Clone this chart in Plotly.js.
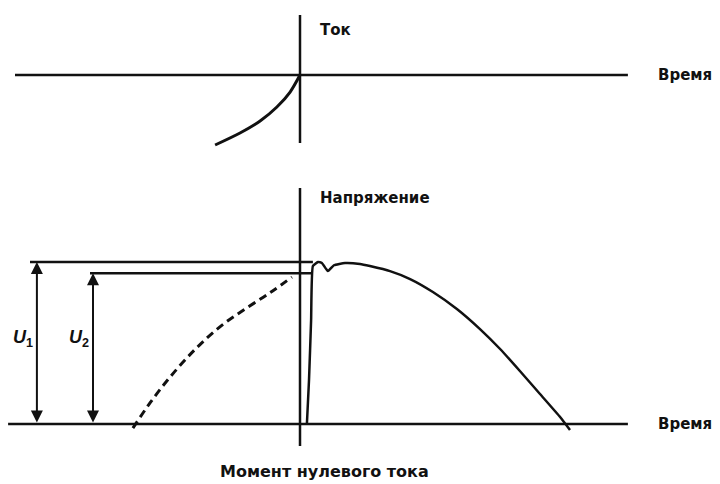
<!DOCTYPE html>
<html>
<head>
<meta charset="utf-8">
<script src="https://cdn.plot.ly/plotly-3.0.1.min.js"></script>
<style>
    html, body { margin: 0; padding: 0; background: white; }
    #chart { width: 720px; height: 484px; }
</style>
</head>
<body>
<div id="chart"></div>
<script>
// Time axis: 0 = moment of current zero
const currentTime = [-2.83, -2.0, -1.33, -0.77, -0.33, 0];
const currentValue = [-3.5, -2.9, -2.3, -1.6, -0.85, 0];

// prospective voltage (dashed)
const prospectiveTime = [-5.57, -5.0, -4.33, -3.5, -2.67, -1.83, -1.0, -0.27];
const prospectiveValue = [-0.25, 1.3, 2.9, 4.6, 6.0, 7.1, 8.1, 9.07];

// recovery voltage after current zero
const recoveryTime = [0.23, 0.3, 0.37, 0.43, 0.6, 0.73, 0.93, 1.13, 1.5, 2.0, 2.33, 3.0, 3.67, 4.43, 5.23, 6.0, 6.67, 7.33, 8.0, 8.67, 9.0];
const recoveryValue = [0, 2.7, 6.4, 9.75, 10.0, 9.94, 9.44, 9.8, 9.94, 9.88, 9.75, 9.44, 8.95, 8.15, 7.10, 5.86, 4.63, 3.27, 1.85, 0.43, -0.37];

// reference levels
const levelNames = ['U<sub>1</sub>', 'U<sub>2</sub>'];
const levelValues = [10, 9.3];
const levelStart = [-9.0, -7.0];
const levelEnd = [0.43, 0.37];
const levelArrowTime = [-8.77, -6.9];

// axis extents
const topTimeAxis = [-9.5, 10.93];
const topValueAxis = [3.0, -3.4];
const bottomTimeAxis = [-9.73, 10.93];
const bottomValueAxis = [14.57, -1.36];

const ink = '#111';
const labelFont = { family: '"DejaVu Sans", sans-serif', size: 15, color: ink, weight: 700 };

function line(x, y, yaxis, extra = {}) {
    return {
        x, y,
        xaxis: 'x', yaxis,
        mode: 'lines',
        hoverinfo: 'skip',
        line: { color: ink, width: 2.5, ...extra }
    };
}

const traces = [
    // axes
    line(topTimeAxis, [0, 0], 'y'),
    line([0, 0], topValueAxis, 'y'),
    line(bottomTimeAxis, [0, 0], 'y2'),
    line([0, 0], bottomValueAxis, 'y2'),
    // curves
    line(currentTime, currentValue, 'y', { shape: 'spline', smoothing: 0.8, width: 3 }),
    line(prospectiveTime, prospectiveValue, 'y2', { shape: 'spline', dash: '8px,5px', width: 3 }),
    line(recoveryTime, recoveryValue, 'y2', { shape: 'spline', smoothing: 0.4, width: 2.5 }),
];

levelValues.forEach((v, i) => {
    traces.push(line([levelStart[i], levelEnd[i]], [v, v], 'y2'));
});

const annotations = [
    { x: 0.6, y: 2.25, yref: 'y', text: 'Ток', xanchor: 'left' },
    { x: 11.87, y: 0, yref: 'y', text: 'Время', xanchor: 'left' },
    { x: 0.6, y: 13.95, yref: 'y2', text: 'Напряжение', xanchor: 'left' },
    { x: 11.87, y: 0, yref: 'y2', text: 'Время', xanchor: 'left' },
    { x: 0.83, y: -2.96, yref: 'y2', text: 'Момент нулевого тока', xanchor: 'center', font: { ...labelFont, size: 16 } },
].map(a => ({ xref: 'x', showarrow: false, yanchor: 'middle', font: labelFont, ...a }));

levelValues.forEach((v, i) => {
    // double-headed measuring arrow between zero and the level
    annotations.push({
        xref: 'x', yref: 'y2',
        x: levelArrowTime[i], y: v,
        axref: 'x', ayref: 'y2',
        ax: levelArrowTime[i], ay: 0,
        text: '', showarrow: true,
        arrowside: 'end+start', arrowhead: 2, arrowsize: 1.2, arrowwidth: 2, arrowcolor: ink
    });
    annotations.push({
        xref: 'x', yref: 'y2',
        x: levelArrowTime[i], y: 5.3,
        xanchor: 'right', yanchor: 'middle', xshift: -2,
        text: '<i>' + levelNames[i].replace('<sub>', '</i><sub>'),
        showarrow: false,
        font: { family: '"Liberation Sans", Arial, sans-serif', size: 18, color: ink, weight: 700 }
    });
});

const layout = {
    width: 720,
    height: 484,
    margin: { l: 0, r: 0, t: 0, b: 0 },
    paper_bgcolor: 'white',
    plot_bgcolor: 'white',
    showlegend: false,
    xaxis: { range: [-10, 14], visible: false, fixedrange: true },
    yaxis: { domain: [0.6694, 1], range: [-4.25, 3.75], visible: false, fixedrange: true },
    yaxis2: { domain: [0, 0.6281], range: [-3.704, 15.062], visible: false, fixedrange: true, anchor: 'x' },
    annotations
};

Plotly.newPlot('chart', traces, layout, { displayModeBar: false, staticPlot: true });
</script>
</body>
</html>
